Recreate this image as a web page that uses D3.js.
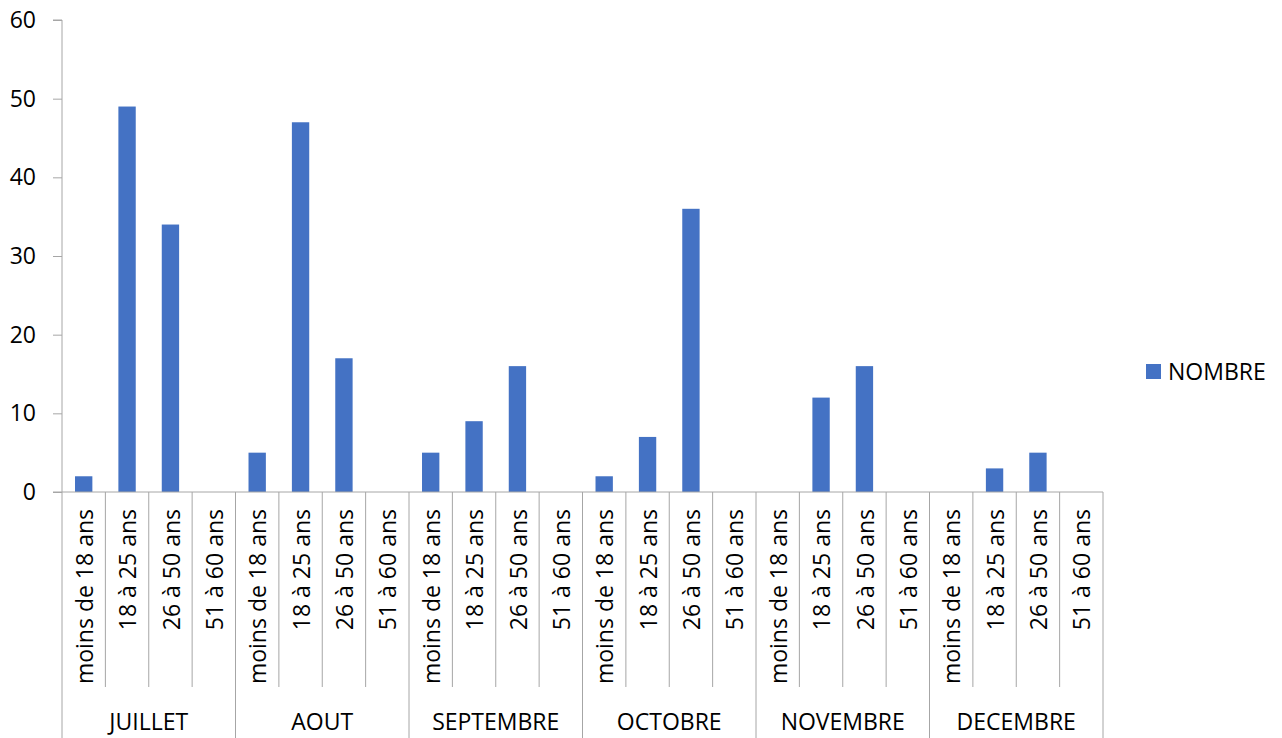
<!DOCTYPE html>
<html>
  <head>
    <meta charset="UTF-8">
    <title>nombre par age</title>
    <style>
      body { margin: 0; background: #fff; }
      svg text { font-family: "Open Sans", sans-serif; font-size: 23px; fill: #000; }
      .axis path, .axis line { stroke: #a6a6a6; }
    </style>
    <script src="https://d3js.org/d3.v7.min.js"></script>
  </head>
  <body>
    <div id="chart"></div>
    <script>
      var months = ["JUILLET", "AOUT", "SEPTEMBRE", "OCTOBRE", "NOVEMBRE", "DECEMBRE"];
      var ages = ["moins de 18 ans", "18 à 25 ans", "26 à 50 ans", "51 à 60 ans"];
      // NOMBRE, month by month, same order as ages
      var juillet = [2, 49, 34, 0];
      var aout = [5, 47, 17, 0];
      var septembre = [5, 9, 16, 0];
      var octobre = [2, 7, 36, 0];
      var novembre = [0, 12, 16, 0];
      var decembre = [0, 3, 5, 0];
      var yTicks = [0, 10, 20, 30, 40, 50, 60];
      var seriesName = "NOMBRE";

      var byMonth = [juillet, aout, septembre, octobre, novembre, decembre];
      var data = [];
      months.forEach(function(m, i) {
        ages.forEach(function(a, j) {
          data.push({month: m, age: a, key: m + "|" + a, value: byMonth[i][j]});
        });
      });

      var width = 1282, height = 738;
      var x0 = 62, x1 = 1103, yTop = 20, yBot = 492;
      var color = "#4472c4", axisColor = "#a6a6a6";

      var svg = d3.select("#chart").append("svg")
        .attr("width", width)
        .attr("height", height);

      var x = d3.scaleBand()
        .domain(data.map(function(d) { return d.key; }))
        .range([x0, x1])
        .paddingInner(0.6)
        .paddingOuter(0.3);
      var step = x.step();
      var xm = d3.scaleBand().domain(months).range([x0, x1]);

      var y = d3.scaleLinear().domain([0, 60]).range([yBot, yTop]);

      // y axis
      var yAxis = d3.axisLeft(y).tickValues(yTicks).tickSize(9).tickPadding(17);
      var gy = svg.append("g")
        .attr("class", "axis")
        .attr("transform", "translate(" + x0 + ",0)")
        .call(yAxis);
      gy.select(".domain").attr("d", "M-9," + yTop + "H0V" + yBot);

      // bars
      svg.selectAll(".bar")
          .data(data)
        .enter().append("rect")
          .attr("class", "bar")
          .attr("x", function(d) { return x(d.key); })
          .attr("width", x.bandwidth())
          .attr("y", function(d) { return y(d.value); })
          .attr("height", function(d) { return yBot - y(d.value); })
          .attr("fill", color);

      // x axis baseline
      svg.append("line")
        .attr("x1", x0 - 9).attr("x2", x1)
        .attr("y1", yBot).attr("y2", yBot)
        .attr("stroke", axisColor);

      // category separators
      var catBottom = 687;
      d3.range(data.length + 1).forEach(function(i) {
        var isMonth = i % ages.length === 0;
        svg.append("line")
          .attr("x1", x0 + i * step).attr("x2", x0 + i * step)
          .attr("y1", yBot).attr("y2", isMonth ? height : catBottom)
          .attr("stroke", axisColor);
      });

      // age labels, rotated
      svg.selectAll(".age")
          .data(data)
        .enter().append("text")
          .attr("class", "age")
          .attr("transform", function(d) {
            return "translate(" + (x(d.key) + x.bandwidth() / 2 + 1) + "," + (yBot + 17) + ") rotate(-90)";
          })
          .attr("dy", "0.35em")
          .style("text-anchor", "end")
          .text(function(d) { return d.age; });

      // month labels
      svg.selectAll(".month")
          .data(months)
        .enter().append("text")
          .attr("class", "month")
          .attr("x", function(d) { return xm(d) + xm.bandwidth() / 2; })
          .attr("y", 730)
          .style("text-anchor", "middle")
          .text(function(d) { return d; });

      // legend
      var legend = svg.append("g").attr("transform", "translate(1146,364)");
      legend.append("rect").attr("width", 15).attr("height", 15).attr("fill", color);
      legend.append("text").attr("x", 22).attr("y", 16).text(seriesName);
    </script>
  </body>
</html>
